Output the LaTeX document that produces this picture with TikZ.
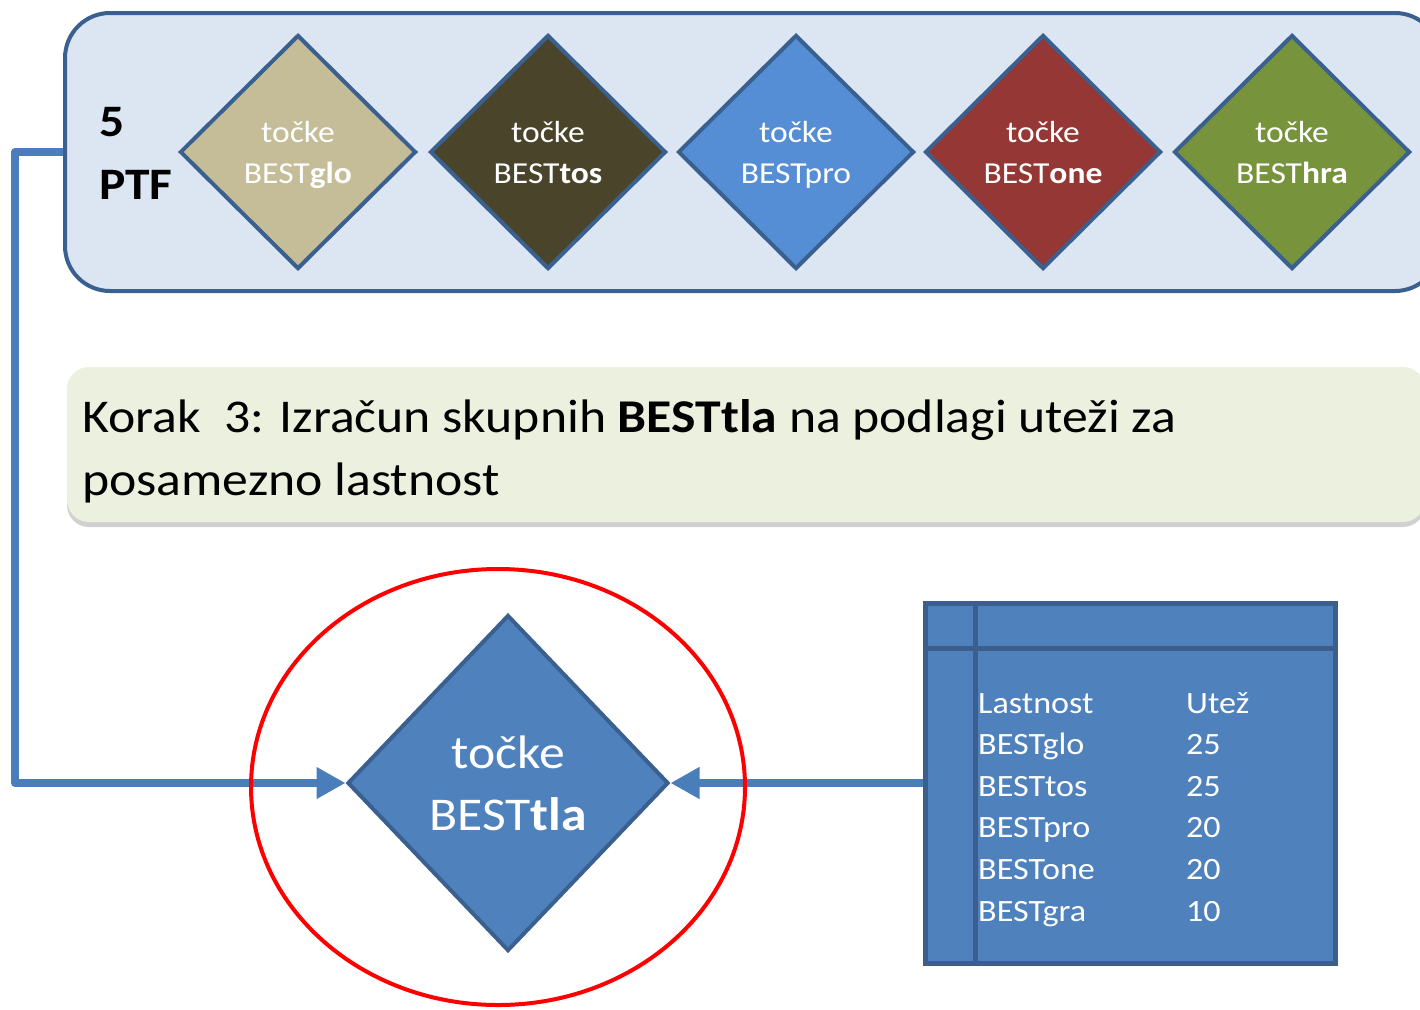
\documentclass[tikz,border=0pt]{standalone}
\usepackage{fontspec}
\setmainfont{Carlito}[FakeStretch=1.1]
\usetikzlibrary{shapes.geometric,arrows.meta,shadows}
\definecolor{boxfill}{HTML}{DCE6F2}
\definecolor{bordc}{HTML}{3A6090}
\definecolor{connc}{HTML}{4A7EBB}
\definecolor{bigfill}{HTML}{4F81BD}
\definecolor{tabbord}{HTML}{3B5E8C}
\definecolor{bannerc}{HTML}{EBF0DF}
\definecolor{dtan}{HTML}{C4BD97}
\definecolor{dolive}{HTML}{4A442A}
\definecolor{dblue}{HTML}{558ED5}
\definecolor{dred}{HTML}{953735}
\definecolor{dgreen}{HTML}{77933C}
\begin{document}
\begin{tikzpicture}[x=1pt,y=-1pt,
  dia/.style={diamond, draw=bordc, line width=4pt, minimum width=236pt, minimum height=234pt,
    inner sep=0pt, text=white, align=center, text depth=0pt, font=\fontsize{30.5}{41}\selectfont},
  conn/.style={draw=connc, line width=8pt, line join=round, -{Triangle[length=29pt,width=30pt]}},
  wtxt/.style={text=white, inner sep=0pt}
]
\useasboundingbox (0,0) rectangle (1420,1009);

% top container
\node[draw=bordc, fill=boxfill, line width=4pt, rounded corners=45pt,
      minimum width=1375pt, minimum height=278pt, inner sep=0pt] (ptfbox) at (752.5,152) {};
\node[anchor=west, inner sep=0pt, align=left, font=\bfseries\fontsize{45}{63}\selectfont] (ptf) at (99,153) {5\\PTF};

\node[dia, fill=dtan]   (glo) at (298,152)  {točke\\BEST\textbf{glo}};
\node[dia, fill=dolive] (tos) at (548,152)  {točke\\BEST\textbf{tos}};
\node[dia, fill=dblue]  (pro) at (796,152)  {točke\\BESTpro};
\node[dia, fill=dred]   (one) at (1043,152) {točke\\BEST\textbf{one}};
\node[dia, fill=dgreen] (hra) at (1292,152) {točke\\BEST\textbf{hra}};

% banner
\node[fill=bannerc, rounded corners=22pt, minimum width=1358pt, minimum height=155pt, inner sep=0pt,
      drop shadow={shadow xshift=0pt, shadow yshift=-5pt, opacity=0.18, fill=black}] (banner) at (746,444.5) {};
\node[anchor=west, inner sep=0pt, align=left, font=\fontsize{47}{63}\selectfont] (step3) at (82,451)
  {Korak~~3: Izračun skupnih \textbf{BESTtla} na podlagi uteži za\\posamezno lastnost};

% big diamond
\node[diamond, draw=bordc, fill=bigfill, line width=4pt, minimum width=321pt, minimum height=336pt,
      inner sep=0pt, text=white, align=center, font=\fontsize{47}{62}\selectfont] (tla) at (508,783)
  {točke\\BEST\textbf{tla}};

% table
\node[draw=tabbord, fill=bigfill, line width=5pt, minimum width=410pt, minimum height=360pt, inner sep=0pt] (tab) at (1130,783) {};
\draw[tabbord, line width=5pt] (975,0 |- tab.north) -- (975,0 |- tab.south);
\draw[tabbord, line width=5pt] (tab.west |- 0,648) -- (tab.east |- 0,648);
\node[anchor=base west, inner sep=0pt, text=white, font=\fontsize{31}{41.6}\selectfont] (tabtext) at (978,713)
  {\begin{tabular}[t]{@{}p{208pt}@{}l@{}}
   Lastnost & Utež\\
   BESTglo & 25\\
   BESTtos & 25\\
   BESTpro & 20\\
   BESTone & 20\\
   BESTgra & 10
   \end{tabular}};

% connectors
\coordinate (bend) at (15,152);
\draw[conn] (ptfbox.west) -- (bend) |- (tla.west);
\draw[conn] (tab.west) -- (tla.east);

% highlight
\node[ellipse, draw=red, line width=4pt, minimum width=494pt, minimum height=436pt, inner sep=0pt] (focus) at (498,787) {};
\end{tikzpicture}
\end{document}
